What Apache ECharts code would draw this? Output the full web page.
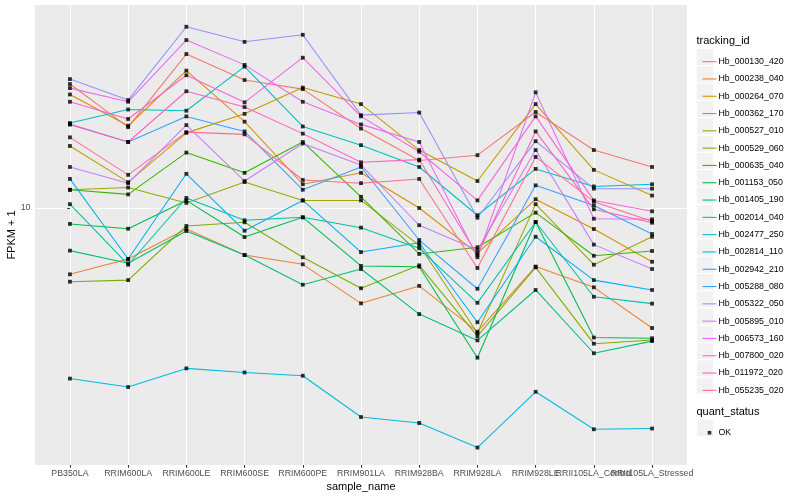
<!DOCTYPE html>
<html><head><meta charset="utf-8">
<script src="https://cdn.jsdelivr.net/npm/echarts@6/dist/echarts.min.js"></script>
<style>html,body{margin:0;padding:0;background:#fff}#c{width:800px;height:500px}</style>
</head><body><div id="c"></div>
<script>
// x categories
const categories = ['PB350LA','RRIM600LA','RRIM600LE','RRIM600SE','RRIM600PE','RRIM901LA','RRIM928BA','RRIM928LA','RRIM928LE','RRII105LA_Control','RRII105LA_Stressed'];
// y tick labels
const yTicks = [10];
// FPKM + 1 values per tracking id (one per category)
const Hb_000130_420 = [25.9, 18.6, 32.6, 26.7, 24.9, 18.4, 14.4, 15.0, 20.9, 15.6, 13.7];
const Hb_000238_040 = [6.01, 6.76, 8.51, 6.97, 6.49, 4.81, 5.50, 3.87, 6.38, 5.44, 3.98];
const Hb_000264_070 = [23.9, 18.8, 28.7, 19.4, 12.0, 13.1, 10.0, 7.06, 10.7, 8.51, 6.62];
const Hb_000362_170 = [16.1, 12.2, 17.8, 20.6, 25.2, 22.2, 15.6, 12.3, 22.2, 13.4, 11.0];
const Hb_000527_010 = [11.5, 11.7, 10.4, 12.2, 10.6, 10.6, 7.51, 3.83, 10.3, 6.47, 8.02];
const Hb_000529_060 = [5.68, 5.75, 8.71, 8.96, 6.85, 5.40, 6.44, 3.74, 6.34, 3.53, 3.63];
const Hb_000635_040 = [11.5, 11.1, 15.3, 13.1, 16.6, 10.9, 7.03, 7.40, 9.65, 6.93, 7.19];
const Hb_001153_050 = [8.85, 8.53, 10.6, 8.00, 9.31, 6.41, 6.37, 3.17, 8.98, 3.70, 3.68];
const Hb_001405_190 = [7.21, 6.54, 8.38, 6.97, 5.55, 6.26, 4.43, 3.62, 5.33, 3.28, 3.60];
const Hb_002014_040 = [10.3, 6.47, 10.8, 9.10, 9.31, 8.60, 7.34, 4.83, 8.98, 5.06, 4.80];
const Hb_002477_250 = [19.2, 21.3, 21.1, 29.6, 18.7, 16.2, 13.7, 9.46, 13.5, 11.8, 12.0];
const Hb_002814_110 = [2.70, 2.53, 2.92, 2.83, 2.76, 2.01, 1.92, 1.59, 2.44, 1.83, 1.84];
const Hb_002942_210 = [12.5, 6.76, 13.0, 8.40, 10.6, 7.13, 7.66, 4.16, 8.02, 5.75, 5.33];
const Hb_005288_080 = [19.0, 16.6, 20.2, 18.0, 11.5, 13.7, 7.82, 5.38, 11.9, 10.2, 8.19];
const Hb_005322_050 = [26.9, 22.9, 40.2, 35.8, 37.8, 20.4, 20.8, 9.28, 16.7, 11.6, 11.6];
const Hb_005895_010 = [13.7, 12.1, 18.9, 12.3, 16.4, 13.9, 8.76, 7.24, 15.6, 7.55, 6.26];
const Hb_006573_160 = [25.1, 22.6, 36.3, 30.0, 22.6, 19.0, 16.6, 6.85, 24.3, 9.21, 9.17];
const Hb_007800_020 = [22.6, 19.8, 27.7, 22.5, 31.7, 20.2, 15.4, 10.6, 20.2, 10.6, 9.75];
const Hb_011972_020 = [19.0, 16.6, 24.5, 21.7, 17.7, 14.2, 14.5, 6.97, 18.0, 9.90, 8.93];
const Hb_055235_020 = [17.2, 12.9, 17.9, 17.6, 12.4, 12.1, 12.5, 6.31, 14.8, 10.5, 9.03];

const trackingIds = ['Hb_000130_420','Hb_000238_040','Hb_000264_070','Hb_000362_170','Hb_000527_010','Hb_000529_060','Hb_000635_040','Hb_001153_050','Hb_001405_190','Hb_002014_040','Hb_002477_250','Hb_002814_110','Hb_002942_210','Hb_005288_080','Hb_005322_050','Hb_005895_010','Hb_006573_160','Hb_007800_020','Hb_011972_020','Hb_055235_020'];
const seriesValues = [Hb_000130_420,Hb_000238_040,Hb_000264_070,Hb_000362_170,Hb_000527_010,Hb_000529_060,Hb_000635_040,Hb_001153_050,Hb_001405_190,Hb_002014_040,Hb_002477_250,Hb_002814_110,Hb_002942_210,Hb_005288_080,Hb_005322_050,Hb_005895_010,Hb_006573_160,Hb_007800_020,Hb_011972_020,Hb_055235_020];
const quantStatus = ['OK'];

const colors = ['#F8766D','#EA8331','#D89000','#C09B00','#A3A500','#7CAE00','#39B600','#00BB4E','#00BF7D','#00C1A3','#00BFC4','#00BAE0','#00B0F6','#35A2FF','#9590FF','#C77CFF','#E76BF3','#FA62DB','#FF62BC','#FF6C91'];

const FONT = '"Liberation Sans", Arial, Helvetica, sans-serif';
const idx = categories.map((_, i) => i);
const evenIdx = idx.filter(i => i % 2 === 0);
const oddIdx = idx.filter(i => i % 2 === 1);

const series = trackingIds.map((id, k) => ({
  type: 'line', name: id, xAxisIndex: 0, yAxisIndex: 0,
  data: seriesValues[k].map((v, i) => [i, v]),
  symbol: 'none', showSymbol: false,
  lineStyle: { width: 1.07, color: colors[k] },
  itemStyle: { color: colors[k] },
  emphasis: { disabled: true }, z: 2
}));
const points = [];
seriesValues.forEach(arr => arr.forEach((v, i) => points.push([i, v])));
series.push({
  type: 'scatter', name: quantStatus[0], data: points, xAxisIndex: 0, yAxisIndex: 0,
  symbol: 'rect', symbolSize: 3.8, itemStyle: { color: '#000' },
  emphasis: { disabled: true }, z: 3
});

const KEY = 17.3, LEG_LEFT = 697.5, LEG1_TOP = 48, LEG2_TOP = 419;
const lineIcon = 'path://M0,0L0,0M14,17.3L14,17.3M0,8.1L14,8.1L14,9.2L0,9.2Z';
const dotIcon = 'path://M0,0L0,0M14,17.3L14,17.3M5.2,6.9L8.8,6.9L8.8,10.5L5.2,10.5Z';

const graphics = [];
trackingIds.forEach((_, k) => graphics.push({
  type: 'rect', left: LEG_LEFT - 1.7, top: LEG1_TOP + k * KEY, z: -1,
  shape: { width: KEY, height: KEY }, style: { fill: '#F2F2F2', stroke: '#fff', lineWidth: 1 }
}));
graphics.push({ type: 'rect', left: LEG_LEFT - 1.7, top: LEG2_TOP, z: -1,
  shape: { width: KEY, height: KEY }, style: { fill: '#F2F2F2', stroke: '#fff', lineWidth: 1 } });
graphics.push({ type: 'text', left: 696.5, top: 35, style: { text: 'tracking_id', font: '11px ' + FONT, fill: '#000' } });
graphics.push({ type: 'text', left: 696.5, top: 406, style: { text: 'quant_status', font: '11px ' + FONT, fill: '#000' } });

const labelStyle = { color: '#4D4D4D', fontSize: 8.8, margin: 4.5, hideOverlap: false, showMinLabel: true, showMaxLabel: true, fontFamily: FONT,
                     formatter: v => categories[Math.round(v)] };

const option = {
  animation: false,
  backgroundColor: '#fff',
  textStyle: { fontFamily: FONT },
  grid: { left: 35, right: 113, top: 5, bottom: 35, show: true, backgroundColor: '#EBEBEB', borderWidth: 0,
          containLabel: false, outerBoundsMode: 'none' },
  xAxis: [{
    type: 'value', min: -0.6, max: 10.6, position: 'bottom',
    name: 'sample_name', nameLocation: 'middle', nameGap: 16, nameMoveOverlap: false,
    nameTextStyle: { fontSize: 11, color: '#000', fontFamily: FONT },
    axisLine: { show: false },
    axisTick: { show: true, length: 2.75, lineStyle: { color: '#333', width: 1.07 }, customValues: idx },
    axisLabel: Object.assign({ customValues: evenIdx }, labelStyle),
    splitLine: { show: true, lineStyle: { color: '#fff', width: 1.07 } }
  }, {
    type: 'value', min: -0.6, max: 10.6, position: 'bottom', offset: 0,
    axisLine: { show: false }, axisTick: { show: false }, splitLine: { show: false },
    axisLabel: Object.assign({ customValues: oddIdx }, labelStyle)
  }],
  yAxis: {
    type: 'log', logBase: 10, min: 1.391, max: 47.5,
    name: 'FPKM + 1', nameLocation: 'middle', nameGap: 18, nameRotate: 90, nameMoveOverlap: false,
    nameTextStyle: { fontSize: 11, color: '#000', fontFamily: FONT },
    axisLine: { show: false },
    axisTick: { show: true, length: 2.75, lineStyle: { color: '#333', width: 1.07 }, customValues: yTicks },
    axisLabel: { customValues: yTicks, color: '#4D4D4D', fontSize: 8.8, margin: 4.5, fontFamily: FONT, formatter: v => String(Math.round(v)) },
    splitLine: { show: true, lineStyle: { color: '#fff', width: 1.07 } }
  },
  legend: [
    { orient: 'vertical', left: LEG_LEFT, top: LEG1_TOP, itemWidth: 14, itemHeight: KEY, itemGap: 0,
      icon: lineIcon, data: trackingIds, selectedMode: false,
      textStyle: { fontSize: 8.8, color: '#000', fontFamily: FONT, padding: [0,0,0,-3] } },
    { orient: 'vertical', left: LEG_LEFT, top: LEG2_TOP, itemWidth: 14, itemHeight: KEY, itemGap: 0,
      icon: dotIcon, data: quantStatus, selectedMode: false,
      textStyle: { fontSize: 8.8, color: '#000', fontFamily: FONT, padding: [0,0,0,-3] } }
  ],
  graphic: graphics,
  series: series
};
const chart = echarts.init(document.getElementById('c'), null, { renderer: 'canvas' });
chart.setOption(option);
</script></body></html>
